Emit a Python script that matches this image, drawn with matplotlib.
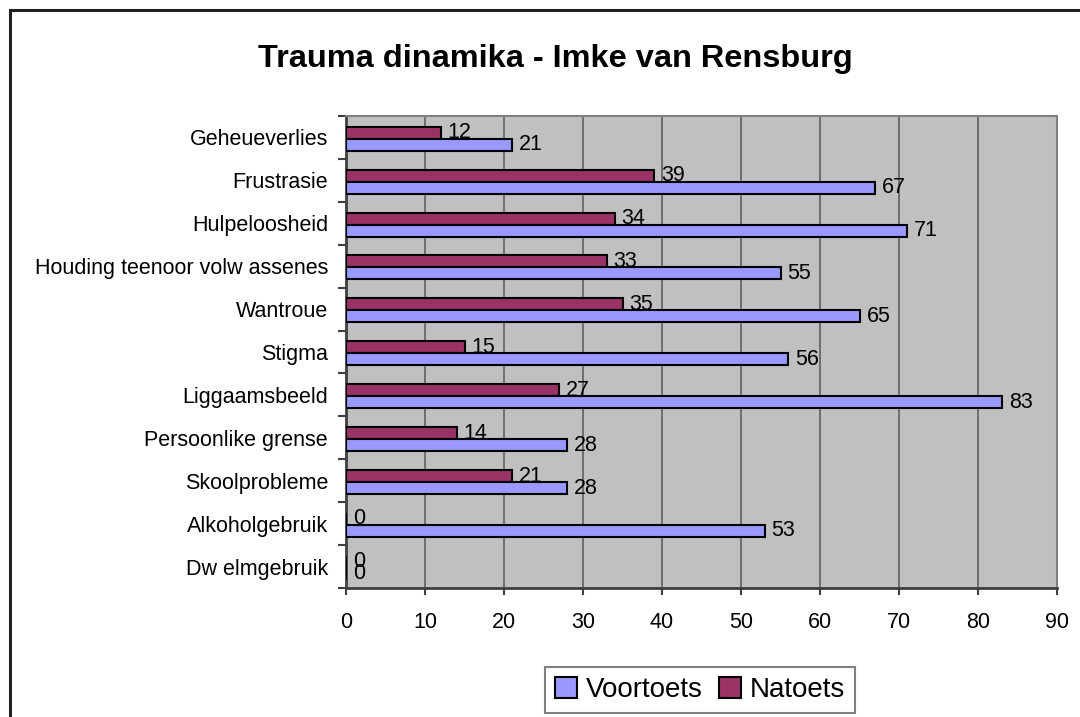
import matplotlib
matplotlib.use("Agg")
import matplotlib.pyplot as plt
import matplotlib.patches as mpatches
import numpy as np

categories = ["Geheueverlies", "Frustrasie", "Hulpeloosheid", "Houding teenoor volw assenes",
              "Wantroue", "Stigma", "Liggaamsbeeld", "Persoonlike grense", "Skoolprobleme",
              "Alkoholgebruik", "Dw elmgebruik"]
voortoets = [21, 67, 71, 55, 65, 56, 83, 28, 28, 53, 0]
natoets = [12, 39, 34, 33, 35, 15, 27, 14, 21, 0, 0]
xticks = [0, 10, 20, 30, 40, 50, 60, 70, 80, 90]

plt.rcParams['font.family'] = ['Liberation Sans', 'DejaVu Sans']

fig = plt.figure(figsize=(10.8, 7.17), dpi=100)
W, H = 1080, 717
ax = fig.add_axes([346 / W, 1 - 588 / H, (1057 - 346) / W, (588 - 116) / H])
ax.set_facecolor('#C0C0C0')

y = np.arange(len(categories))
h = 0.28
c_v = '#9999FF'
c_n = '#993366'
bn = ax.barh(y - h / 2 + 0.03, natoets, height=h, color=c_n, edgecolor='black', linewidth=1.5, zorder=3, label='Natoets')
bv = ax.barh(y + h / 2 + 0.03, voortoets, height=h, color=c_v, edgecolor='black', linewidth=1.5, zorder=3, label='Voortoets')
ax.bar_label(bn, labels=[str(v) for v in natoets], padding=5, fontsize=15.5, zorder=4)
ax.bar_label(bv, labels=[str(v) for v in voortoets], padding=5, fontsize=15.5, zorder=4)

ax.set_xlim(0, 90)
ax.set_ylim(len(categories) - 0.5, -0.5)
ax.set_xticks(xticks)
ax.set_xticklabels([str(t) for t in xticks], fontsize=15.5)
ax.set_yticks(y)
ax.set_yticklabels(categories, fontsize=15.5)
ax.set_yticks(np.arange(-0.5, len(categories) + 0.5, 1), minor=True)
ax.tick_params(axis='y', which='major', length=0, pad=13)
ax.tick_params(axis='y', which='minor', length=6, width=1.5, color='#404040', direction='out')
ax.tick_params(axis='x', which='major', length=5, width=1.5, color='#404040', pad=12)

ax.grid(axis='x', color='#606060', linewidth=1.2, zorder=1)
ax.set_axisbelow(True)
for s in ['left', 'bottom']:
    ax.spines[s].set_color('#404040')
    ax.spines[s].set_linewidth(2)
for s in ['top', 'right']:
    ax.spines[s].set_color('#808080')
    ax.spines[s].set_linewidth(1.5)

fig.text(555 / W, 1 - 59 / H, "Trauma dinamika - Imke van Rensburg", ha='center', va='center',
         fontsize=23.4, fontweight='bold')

handles = [mpatches.Patch(facecolor=c_v, edgecolor='black', linewidth=1.5, label='Voortoets'),
           mpatches.Patch(facecolor=c_n, edgecolor='black', linewidth=1.5, label='Natoets')]
leg = fig.legend(handles=handles, loc='center', bbox_to_anchor=(700 / W, 1 - 690 / H), ncol=2,
                 fontsize=20, frameon=True, fancybox=False, edgecolor='#606060',
                 handlelength=0.8, handleheight=0.8, handletextpad=0.3, columnspacing=0.6,
                 borderpad=0.35, borderaxespad=0)
leg.get_frame().set_linewidth(1.5)

border = mpatches.Rectangle((9.5 / W, -0.05), 1.2, 1 - 9.5 / H + 0.05, transform=fig.transFigure,
                            fill=False, edgecolor='#202020', linewidth=2.2)
fig.patches.append(border)

fig.savefig('out.png', dpi=100, facecolor='white')
